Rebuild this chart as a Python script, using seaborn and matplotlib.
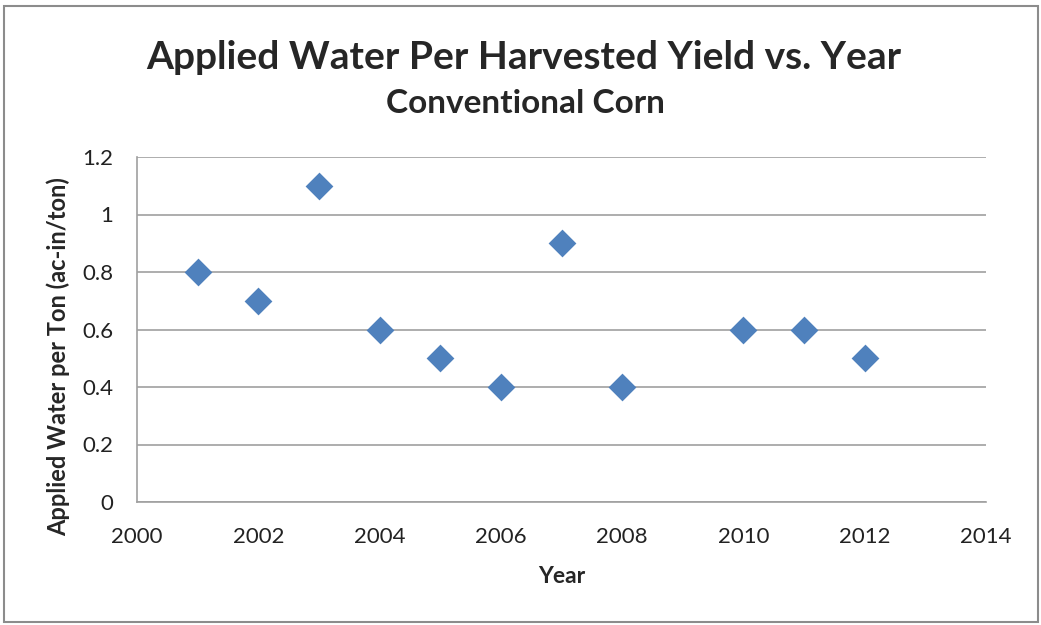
import matplotlib
matplotlib.use("Agg")
import matplotlib.pyplot as plt
import seaborn as sns
import pandas as pd
from matplotlib.patches import Rectangle

# Applied water per harvested ton, conventional corn
years = [2001, 2002, 2003, 2004, 2005, 2006, 2007, 2008, 2010, 2011, 2012]
water_per_ton = [0.8, 0.7, 1.1, 0.6, 0.5, 0.4, 0.9, 0.4, 0.6, 0.6, 0.5]
x_ticks = [2000, 2002, 2004, 2006, 2008, 2010, 2012, 2014]
y_ticks = [0, 0.2, 0.4, 0.6, 0.8, 1.0, 1.2]
y_tick_labels = ["0", "0.2", "0.4", "0.6", "0.8", "1", "1.2"]

sns.set_style("white")
plt.rcParams["font.family"] = ["Lato", "DejaVu Sans"]

df = pd.DataFrame({"Year": years, "Water": water_per_ton})

fig = plt.figure(figsize=(10.41, 6.25), dpi=100)
ax = fig.add_axes([0.1316, 0.1968, 0.8156, 0.552])

sns.scatterplot(data=df, x="Year", y="Water", marker="D", s=200,
                color="#4F81BD", edgecolor="#4F81BD", linewidth=0, ax=ax,
                zorder=3)

ax.set_xlim(2000, 2014)
ax.set_ylim(0, 1.2)
ax.set_xticks(x_ticks)
ax.set_xticklabels([str(t) for t in x_ticks], fontsize=16, color="#222222")
ax.set_yticks(y_ticks)
ax.set_yticklabels(y_tick_labels, fontsize=16, color="#222222")
ax.tick_params(axis="both", length=0)
ax.tick_params(axis="y", pad=17)
ax.tick_params(axis="x", pad=18)

ax.grid(axis="y", color="#A0A0A0", linewidth=1.2)
ax.grid(axis="x", visible=False)
for side in ["top", "right"]:
    ax.spines[side].set_visible(False)
for side in ["left", "bottom"]:
    ax.spines[side].set_color("#A0A0A0")
    ax.spines[side].set_linewidth(1.2)

ax.set_xlabel("Year", fontsize=16.5, fontweight="bold", labelpad=14)
ax.set_ylabel("Applied Water per Ton (ac-in/ton)", fontsize=17,
              fontweight="bold")
ax.yaxis.set_label_coords(-0.079, 0.423)

fig.text(0.503, 0.908, "Applied Water Per Harvested Yield vs. Year",
         ha="center", va="center", fontsize=28, fontweight="bold")
fig.text(0.505, 0.835, "Conventional Corn", ha="center", va="center",
         fontsize=24, fontweight="bold")

# outer chart frame
fig.patches.append(Rectangle((0.004, 0.005), 0.993, 0.985,
                             transform=fig.transFigure, fill=False,
                             edgecolor="#8C8C8C", linewidth=1.5))

fig.savefig("out.png", dpi=100)
